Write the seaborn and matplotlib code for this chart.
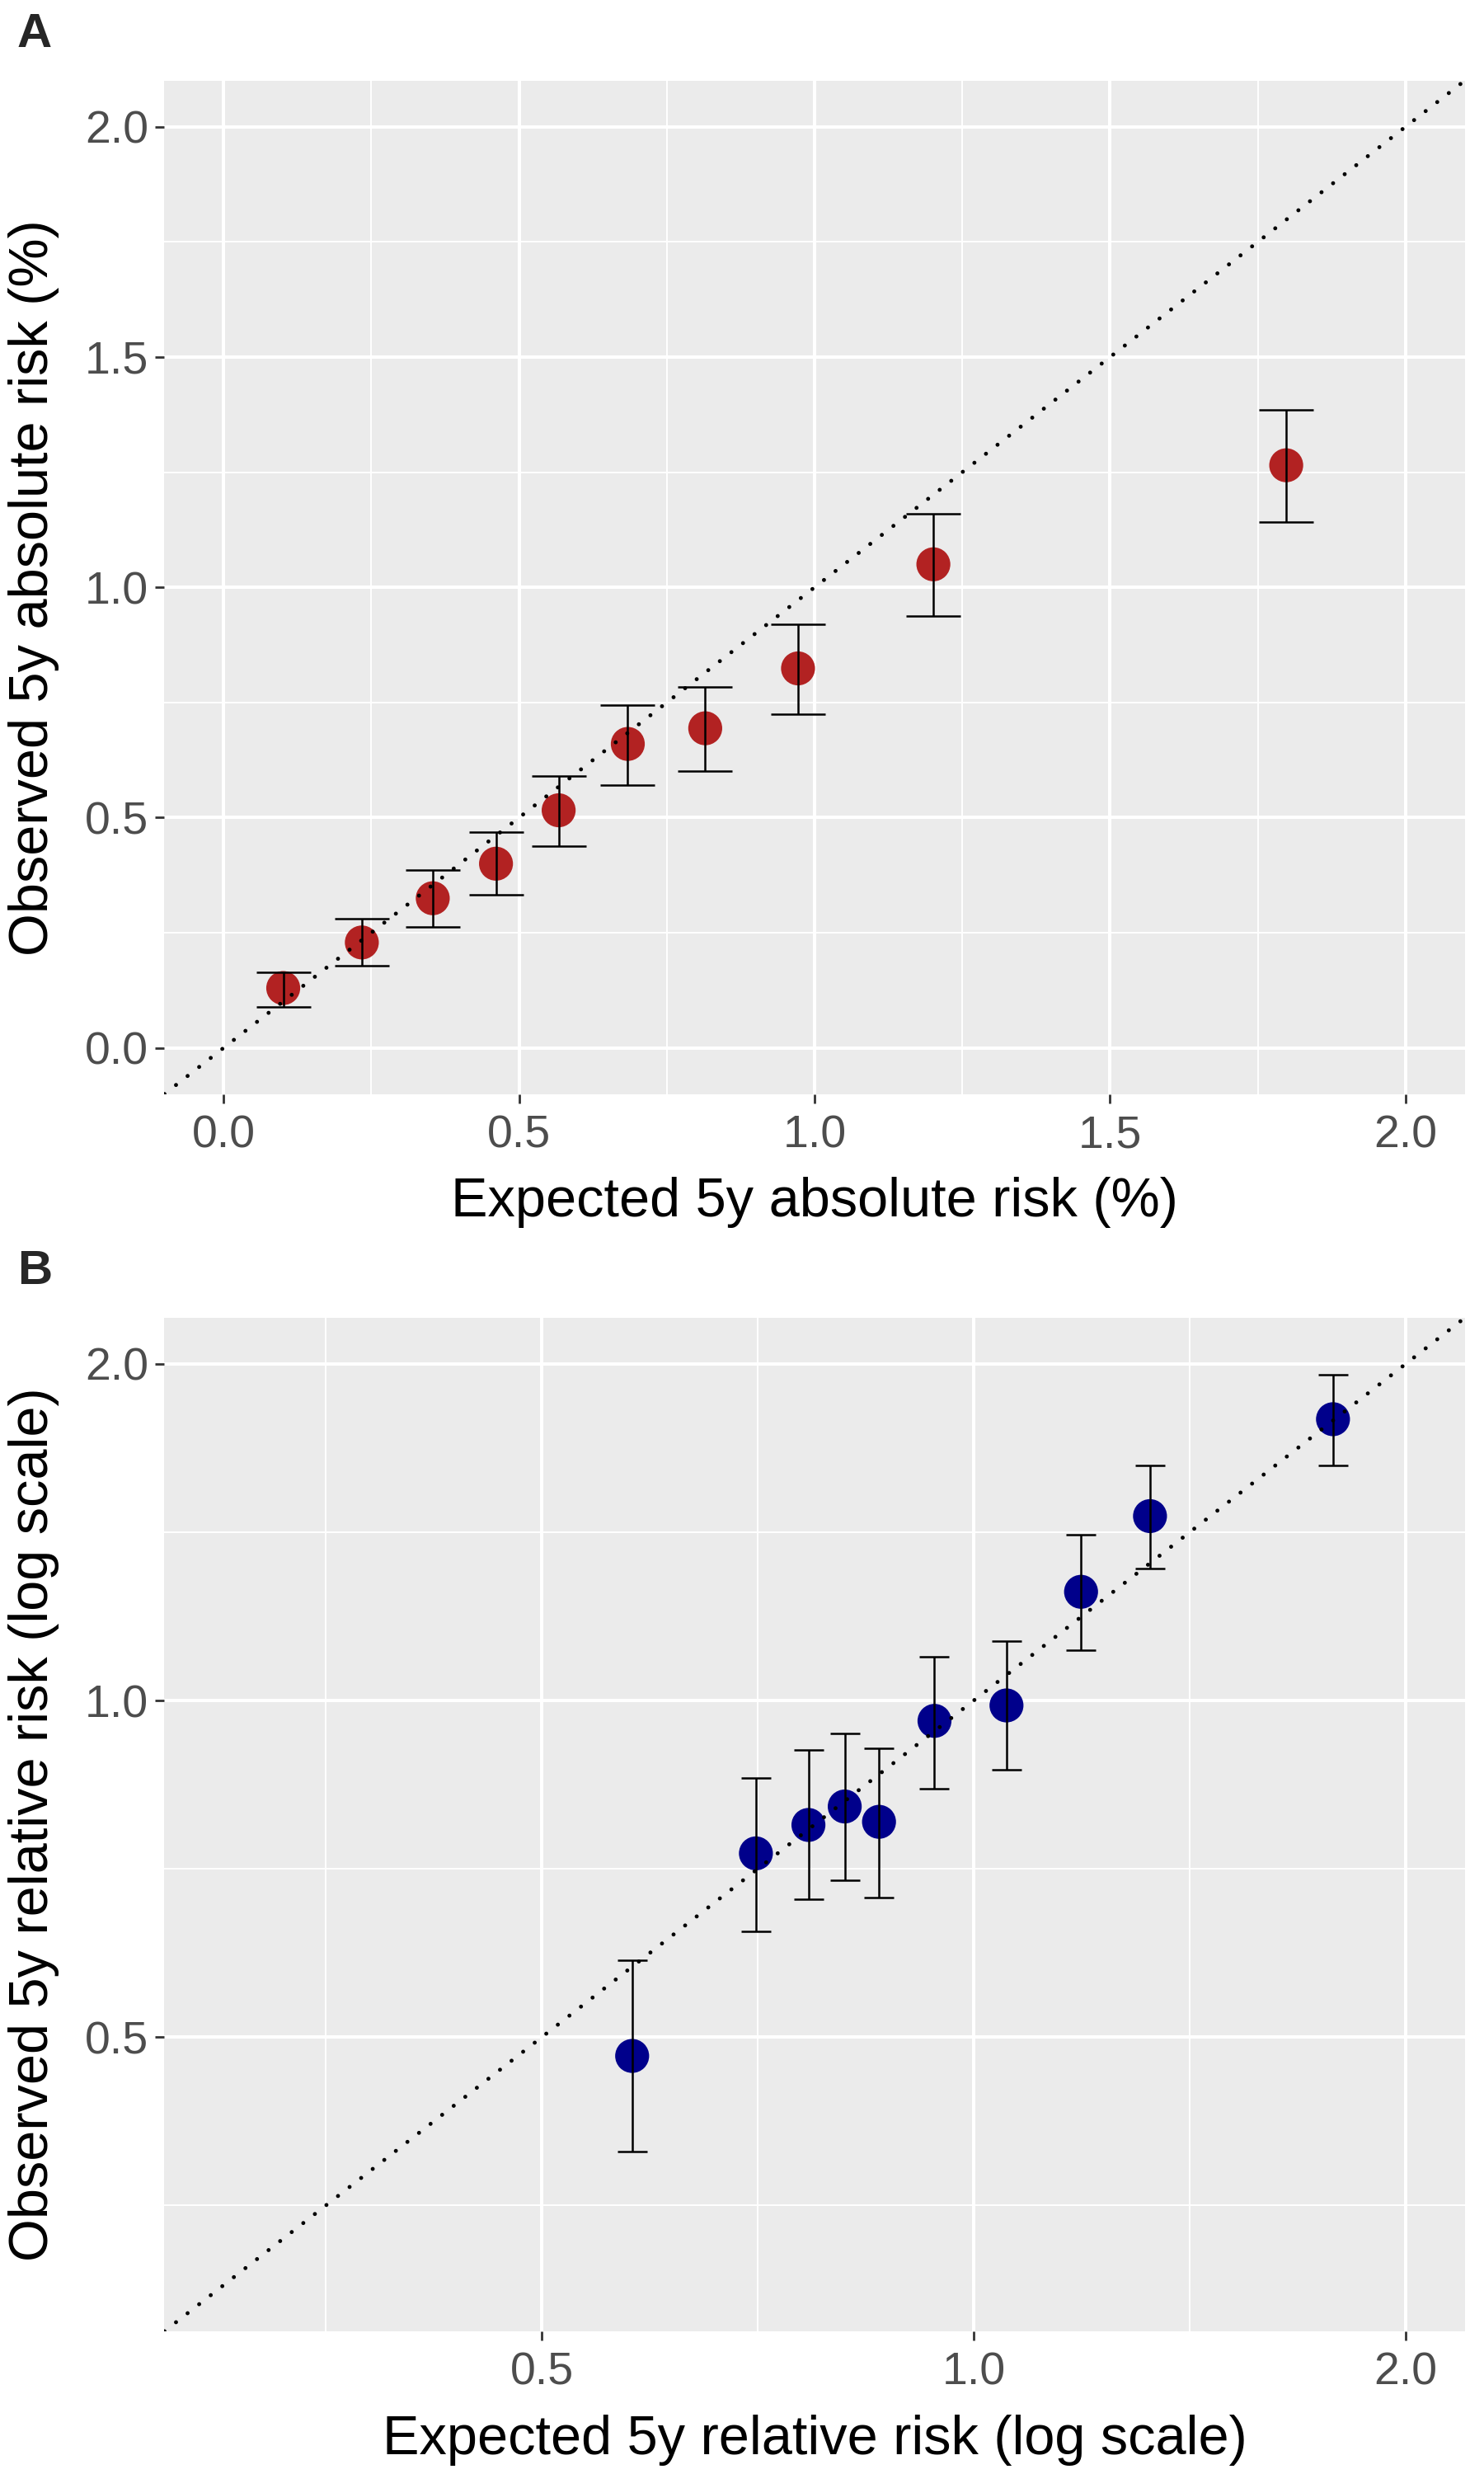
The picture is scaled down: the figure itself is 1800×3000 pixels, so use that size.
import numpy as np
import pandas as pd
import matplotlib
matplotlib.use("Agg")
import matplotlib.pyplot as plt
import matplotlib.ticker as mticker
import seaborn as sns

# ---- Data: panel A (absolute risk, %) ----
abs_expected = [0.101, 0.234, 0.354, 0.461, 0.567, 0.684, 0.815, 0.972, 1.201, 1.798]
abs_observed = [0.130, 0.229, 0.325, 0.400, 0.516, 0.660, 0.694, 0.824, 1.050, 1.265]
abs_lower    = [0.089, 0.178, 0.263, 0.332, 0.438, 0.571, 0.602, 0.725, 0.937, 1.142]
abs_upper    = [0.164, 0.280, 0.386, 0.468, 0.591, 0.745, 0.783, 0.920, 1.159, 1.385]

# ---- Data: panel B (relative risk, log scale) ----
rel_expected = [0.578, 0.705, 0.767, 0.813, 0.859, 0.939, 1.054, 1.188, 1.327, 1.780]
rel_observed = [0.481, 0.730, 0.774, 0.804, 0.779, 0.959, 0.990, 1.251, 1.462, 1.785]
rel_lower    = [0.395, 0.622, 0.664, 0.691, 0.667, 0.834, 0.867, 1.110, 1.313, 1.624]
rel_upper    = [0.586, 0.853, 0.904, 0.934, 0.907, 1.095, 1.131, 1.406, 1.622, 1.955]

abs_ticks = [0.0, 0.5, 1.0, 1.5, 2.0]
abs_tick_labels = ["0.0", "0.5", "1.0", "1.5", "2.0"]
rel_ticks = [0.5, 1.0, 2.0]
rel_tick_labels = ["0.5", "1.0", "2.0"]

sns.set_theme(style="darkgrid")
plt.rcParams["font.family"] = ["Liberation Sans", "DejaVu Sans"]

BG = "#EBEBEB"
TICK_COL = "#4D4D4D"

fig = plt.figure(figsize=(18, 30), dpi=100)
axA = fig.add_axes([0.1108, 0.5578, 0.8762, 0.4096])
axB = fig.add_axes([0.1108, 0.0577, 0.8762, 0.4096])


def style(ax):
    ax.set_facecolor(BG)
    for s in ax.spines.values():
        s.set_visible(False)
    ax.grid(which="major", color="white", linewidth=2.9)
    ax.grid(which="minor", color="white", linewidth=1.4)
    ax.set_axisbelow(True)
    ax.tick_params(axis="both", which="major", length=8, width=2, color="#333333",
                   labelsize=40, labelcolor=TICK_COL, bottom=True, left=True)
    ax.tick_params(axis="x", which="major", pad=10)
    ax.tick_params(axis="y", which="major", pad=6)
    ax.tick_params(axis="both", which="minor", length=0)


DOT = (0, (0.01, 3.65))

# ---- Panel A ----
dfA = pd.DataFrame({"exp": abs_expected, "obs": abs_observed,
                    "lo": abs_lower, "hi": abs_upper})
style(axA)
sns.scatterplot(data=dfA, x="exp", y="obs", ax=axA, s=880, color="#B22222",
                edgecolor="none", linewidth=0, zorder=3, legend=False)
axA.errorbar(dfA["exp"], dfA["obs"],
             yerr=[dfA["obs"] - dfA["lo"], dfA["hi"] - dfA["obs"]],
             fmt="none", ecolor="black", elinewidth=1.8, capsize=24, capthick=1.8, zorder=4)
limA = (-0.1, 2.1)
axA.set_xlim(*limA)
axA.set_ylim(*limA)
axA.plot(limA, limA, color="black", linewidth=3.5,
         linestyle=DOT, dash_capstyle="round", zorder=5)
axA.set_xticks(abs_ticks)
axA.set_xticklabels(abs_tick_labels)
axA.set_yticks(abs_ticks)
axA.set_yticklabels(abs_tick_labels)
axA.xaxis.set_minor_locator(mticker.FixedLocator([0.25, 0.75, 1.25, 1.75]))
axA.yaxis.set_minor_locator(mticker.FixedLocator([0.25, 0.75, 1.25, 1.75]))
axA.set_xlabel("Expected 5y absolute risk (%)", fontsize=48, color="black", labelpad=17)
axA.set_ylabel("Observed 5y absolute risk (%)", fontsize=48, color="black", labelpad=22)

# ---- Panel B ----
dfB = pd.DataFrame({"exp": rel_expected, "obs": rel_observed,
                    "lo": rel_lower, "hi": rel_upper})
style(axB)
axB.set_xscale("log", base=2)
axB.set_yscale("log", base=2)
sns.scatterplot(data=dfB, x="exp", y="obs", ax=axB, s=880, color="#00008B",
                edgecolor="none", linewidth=0, zorder=3, legend=False)
axB.errorbar(dfB["exp"], dfB["obs"],
             yerr=[dfB["obs"] - dfB["lo"], dfB["hi"] - dfB["obs"]],
             fmt="none", ecolor="black", elinewidth=1.8, capsize=13, capthick=1.8, zorder=4)
lo_l, hi_l = np.log2(0.3), np.log2(2.0)
pad = 0.05 * (hi_l - lo_l)
limB = (2 ** (lo_l - pad), 2 ** (hi_l + pad))
axB.set_xlim(*limB)
axB.set_ylim(*limB)
axB.plot(limB, limB, color="black", linewidth=3.5,
         linestyle=DOT, dash_capstyle="round", zorder=5)
axB.xaxis.set_major_locator(mticker.FixedLocator(rel_ticks))
axB.yaxis.set_major_locator(mticker.FixedLocator(rel_ticks))
axB.xaxis.set_major_formatter(mticker.FixedFormatter(rel_tick_labels))
axB.yaxis.set_major_formatter(mticker.FixedFormatter(rel_tick_labels))
minB = [2 ** -1.5, 2 ** -0.5, 2 ** 0.5]
axB.xaxis.set_minor_locator(mticker.FixedLocator(minB))
axB.yaxis.set_minor_locator(mticker.FixedLocator(minB))
axB.xaxis.set_minor_formatter(mticker.NullFormatter())
axB.yaxis.set_minor_formatter(mticker.NullFormatter())
axB.set_xlabel("Expected 5y relative risk (log scale)", fontsize=48, color="black", labelpad=17)
axB.set_ylabel("Observed 5y relative risk (log scale)", fontsize=48, color="black", labelpad=22)

fig.text(0.0233, 0.986, "A", fontsize=42, fontweight="bold", ha="center", va="center")
fig.text(0.0233, 0.486, "B", fontsize=42, fontweight="bold", ha="center", va="center")

fig.savefig("out.png", dpi=100, facecolor="white")
